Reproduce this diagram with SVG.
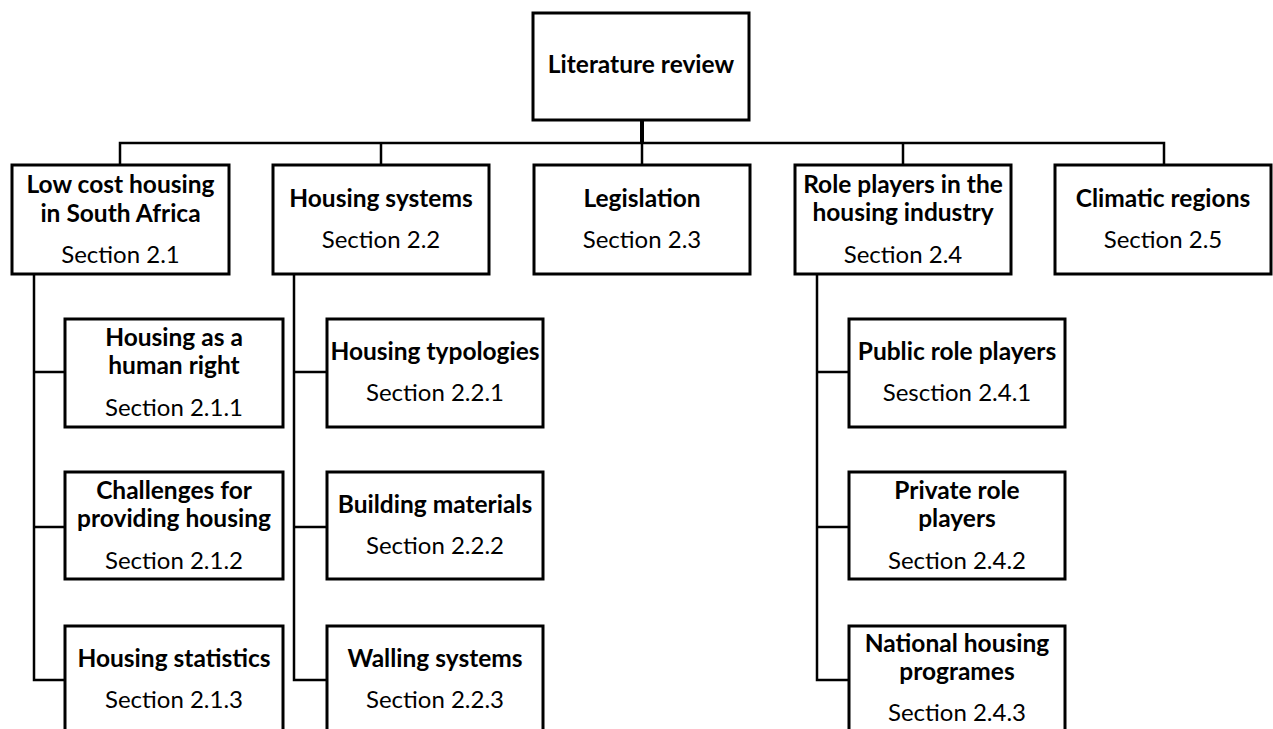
<svg xmlns="http://www.w3.org/2000/svg" width="1273" height="729" viewBox="0 0 1273 729">
<style>
.box{fill:#fff;stroke:#000;stroke-width:3}
.t{font-family:Lato,"Liberation Sans",sans-serif;font-size:24.5px;font-weight:bold;text-anchor:middle;fill:#000}
.s{font-family:Lato,"Liberation Sans",sans-serif;font-size:24px;text-anchor:middle;fill:#000}
.c{fill:none;stroke:#000;stroke-width:2.5}
</style>
<rect width="1273" height="729" fill="#fff"/>
<g id="connectors">
<line x1="642" y1="120" x2="642" y2="143" stroke="#000" stroke-width="4"/>
<path class="c" d="M120,165 V143 H1164 V165 M381,143 V165 M642,143 V165 M903,143 V165"/>
<path class="c" stroke-width="3" d="M34,274 V680 H65 M34,372 H65 M34,527 H65"/>
<path class="c" stroke-width="3" d="M294,274 V680 H327 M294,372 H327 M294,527 H327"/>
<path class="c" stroke-width="3" d="M817,274 V680 H849 M817,372 H849 M817,527 H849"/>
</g>
<g id="literature-review">
<rect class="box" x="533" y="13" width="216" height="107"/>
<text class="t" x="641" y="73">Literature review</text>
</g>
<g id="s2-1">
<rect class="box" x="12" y="165" width="217" height="109"/>
<text class="t" x="120.5" y="193">Low cost housing</text>
<text class="t" x="120.5" y="222">in South Africa</text>
<text class="s" x="120.5" y="263">Section 2.1</text>
</g>
<g id="s2-2">
<rect class="box" x="273" y="165" width="216" height="109"/>
<text class="t" x="381" y="207">Housing systems</text>
<text class="s" x="381" y="248">Section 2.2</text>
</g>
<g id="s2-3">
<rect class="box" x="534" y="165" width="216" height="109"/>
<text class="t" x="642" y="207">Legislation</text>
<text class="s" x="642" y="248">Section 2.3</text>
</g>
<g id="s2-4">
<rect class="box" x="795" y="165" width="216" height="109"/>
<text class="t" x="903" y="193">Role players in the</text>
<text class="t" x="903" y="221">housing industry</text>
<text class="s" x="903" y="263">Section 2.4</text>
</g>
<g id="s2-5">
<rect class="box" x="1055" y="165" width="216" height="109"/>
<text class="t" x="1163" y="207">Climatic regions</text>
<text class="s" x="1163" y="248">Section 2.5</text>
</g>
<g id="s2-1-1">
<rect class="box" x="65" y="319" width="218" height="108"/>
<text class="t" x="174" y="346">Housing as a</text>
<text class="t" x="174" y="374">human right</text>
<text class="s" x="174" y="416">Section 2.1.1</text>
</g>
<g id="s2-1-2">
<rect class="box" x="65" y="472" width="218" height="107"/>
<text class="t" x="174" y="499">Challenges for</text>
<text class="t" x="174" y="527">providing housing</text>
<text class="s" x="174" y="569">Section 2.1.2</text>
</g>
<g id="s2-1-3">
<rect class="box" x="65" y="626" width="218" height="110"/>
<text class="t" x="174" y="667">Housing statistics</text>
<text class="s" x="174" y="708">Section 2.1.3</text>
</g>
<g id="s2-2-1">
<rect class="box" x="327" y="319" width="216" height="108"/>
<text class="t" x="435" y="360">Housing typologies</text>
<text class="s" x="435" y="401">Section 2.2.1</text>
</g>
<g id="s2-2-2">
<rect class="box" x="327" y="472" width="216" height="107"/>
<text class="t" x="435" y="513">Building materials</text>
<text class="s" x="435" y="554">Section 2.2.2</text>
</g>
<g id="s2-2-3">
<rect class="box" x="327" y="626" width="216" height="110"/>
<text class="t" x="435" y="667">Walling systems</text>
<text class="s" x="435" y="708">Section 2.2.3</text>
</g>
<g id="s2-4-1">
<rect class="box" x="849" y="319" width="216" height="108"/>
<text class="t" x="957" y="360">Public role players</text>
<text class="s" x="957" y="401">Sesction 2.4.1</text>
</g>
<g id="s2-4-2">
<rect class="box" x="849" y="472" width="216" height="107"/>
<text class="t" x="957" y="499">Private role</text>
<text class="t" x="957" y="527">players</text>
<text class="s" x="957" y="569">Section 2.4.2</text>
</g>
<g id="s2-4-3">
<rect class="box" x="849" y="626" width="216" height="110"/>
<text class="t" x="957" y="652">National housing</text>
<text class="t" x="957" y="680">programes</text>
<text class="s" x="957" y="721">Section 2.4.3</text>
</g>
</svg>
